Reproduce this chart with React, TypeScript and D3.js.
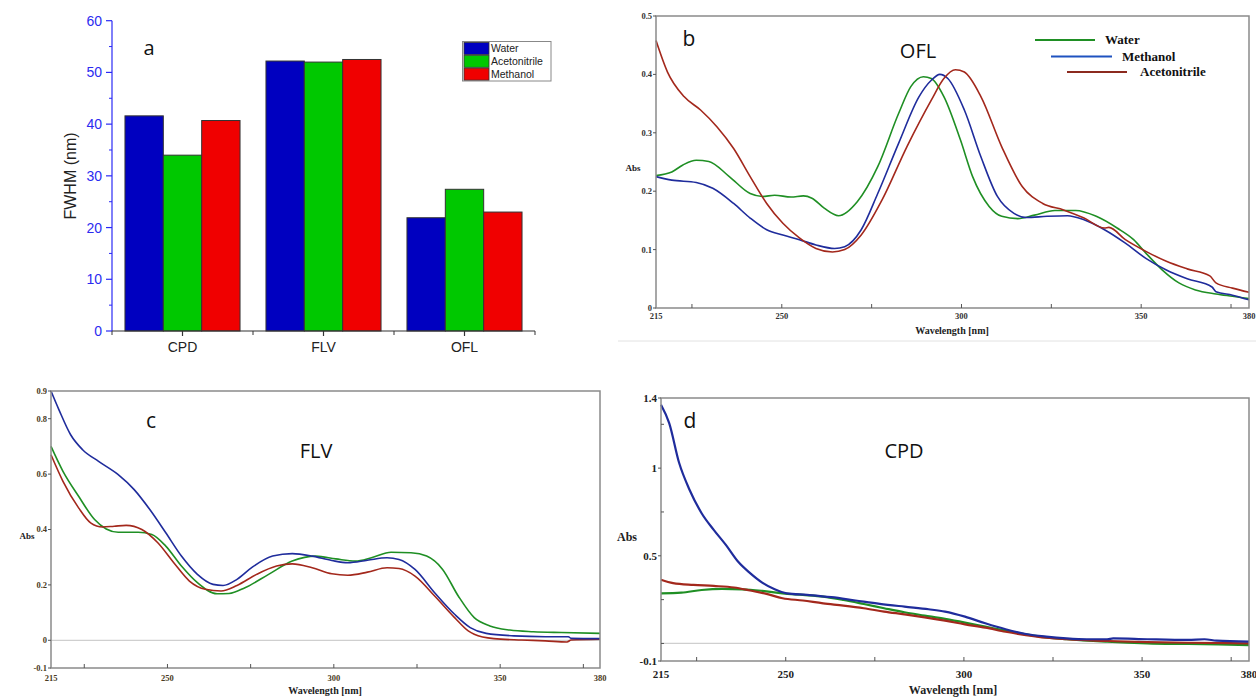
import React from 'react';
import * as d3 from 'd3';

// ---------- Panel a data ----------
const barCategories = ['CPD', 'FLV', 'OFL'];
const barSeries = ['Water', 'Acetonitrile', 'Methanol'];
const fwhmWater = [41.6, 52.2, 21.9];
const fwhmAcetonitrile = [34.0, 52.0, 27.4];
const fwhmMethanol = [40.7, 52.5, 23.0];
const fwhmTicks = [0, 10, 20, 30, 40, 50, 60];

// ---------- Panel b (OFL) ----------
const oflWater: [number, number][] = [
  [215, 0.227], [219.4, 0.233], [222.5, 0.245], [226.2, 0.253], [229.7, 0.251], [235.4, 0.225], [241.2, 0.196],
  [244.6, 0.191], [248, 0.193], [252.6, 0.19], [256, 0.192], [258.4, 0.188], [261.8, 0.171],
  [265.8, 0.158], [271, 0.182], [276.7, 0.242], [282.5, 0.333], [285.9, 0.379], [289.4, 0.396],
  [291.6, 0.393], [295.1, 0.362], [299.7, 0.288], [303.1, 0.225], [307.7, 0.174], [311.2, 0.157],
  [315.7, 0.153], [320.3, 0.159], [326, 0.167], [331.8, 0.167], [337.5, 0.157], [343.3, 0.137],
  [347.9, 0.117], [351.3, 0.094], [355.9, 0.065], [360.5, 0.043], [365.1, 0.031], [370.8, 0.024],
  [375.4, 0.02], [380, 0.016],
];
const oflMethanol: [number, number][] = [
  [215, 0.225], [219.4, 0.219], [226.2, 0.215], [230.8, 0.205], [236.6, 0.179], [241.2, 0.154],
  [245.8, 0.134], [250.3, 0.125], [254.9, 0.117], [259.5, 0.108], [264.7, 0.102], [267.5, 0.105],
  [272.1, 0.134], [276.7, 0.196], [282.5, 0.282], [288.2, 0.362], [291.6, 0.39], [294, 0.4],
  [296.2, 0.393], [300.8, 0.339], [305.4, 0.259], [310, 0.191], [314.6, 0.162], [318, 0.155],
  [323.8, 0.157], [329.5, 0.158], [334.1, 0.151], [339.8, 0.134], [345.6, 0.111], [351.3, 0.085],
  [357, 0.065], [362.8, 0.05], [369.7, 0.036], [370.8, 0.028], [375.4, 0.022], [380, 0.014],
];
const oflAcetonitrile: [number, number][] = [
  [215, 0.458], [218.2, 0.404], [222.8, 0.362], [227.4, 0.339], [232, 0.31], [236.6, 0.273],
  [241.2, 0.225], [245.8, 0.179], [250.3, 0.145], [254.9, 0.12], [259.5, 0.102], [264.1, 0.096],
  [267.5, 0.1], [272.1, 0.125], [277.9, 0.185], [284.8, 0.276], [291.6, 0.356], [295.1, 0.393],
  [298.3, 0.408], [300.8, 0.404], [305.4, 0.362], [311.2, 0.276], [316.9, 0.208], [322.6, 0.179],
  [328.4, 0.168], [334.1, 0.154], [339.8, 0.137], [341, 0.138], [345.6, 0.117], [351.3, 0.097],
  [357, 0.08], [362.8, 0.067], [369.1, 0.055], [370.8, 0.043], [375.4, 0.034], [380, 0.027],
];

// ---------- Panel c (FLV) ----------
const flvMethanol: [number, number][] = [
  [215, 0.9], [217.4, 0.832], [220.9, 0.742], [224.5, 0.688], [229.3, 0.646], [235.2, 0.598],
  [240, 0.544], [244.7, 0.472], [249.5, 0.388], [254.2, 0.304], [259, 0.238], [263.7, 0.202],
  [266.7, 0.198], [270.9, 0.22], [275.6, 0.265], [281.6, 0.304], [287.5, 0.313], [293.5, 0.304],
  [299.4, 0.288], [304.2, 0.28], [310.1, 0.289], [316, 0.298], [319.6, 0.292], [324.4, 0.256],
  [330.3, 0.172], [336.3, 0.094], [341, 0.046], [345.8, 0.025], [354.1, 0.016], [363.6, 0.013],
  [370.5, 0.013], [371.3, 0.007], [380, 0.006],
];
const flvWater: [number, number][] = [
  [215, 0.7], [218.6, 0.61], [223.3, 0.52], [228.1, 0.436], [231.6, 0.402], [235.2, 0.39],
  [241.2, 0.39], [245.3, 0.382], [249.5, 0.34], [254.2, 0.268], [259, 0.208], [264.9, 0.168],
  [268.5, 0.169], [273.3, 0.19], [280.4, 0.238], [287.5, 0.286], [294.6, 0.304], [300.6, 0.294],
  [306.5, 0.286], [311.3, 0.298], [317.2, 0.318], [323.2, 0.316], [327.9, 0.304], [332.7, 0.256],
  [337.4, 0.16], [342.2, 0.082], [346.9, 0.052], [352.9, 0.037], [360, 0.031], [368.4, 0.028],
  [380, 0.025],
];
const flvAcetonitrile: [number, number][] = [
  [215, 0.67], [218.6, 0.574], [223.3, 0.478], [226.9, 0.424], [230.5, 0.409], [234, 0.412],
  [237.6, 0.415], [242.3, 0.4], [247.1, 0.352], [251.9, 0.28], [256.6, 0.214], [261.4, 0.184],
  [266.1, 0.178], [270.9, 0.198], [276.8, 0.238], [282.8, 0.268], [287.5, 0.276], [293.5, 0.262],
  [299.4, 0.24], [304.2, 0.235], [310.1, 0.246], [316, 0.262], [319.6, 0.259], [324.4, 0.232],
  [330.3, 0.16], [336.3, 0.082], [340.4, 0.034], [342.2, 0.022], [348.1, 0.006], [356.4, 0.001],
  [363.6, -0.002], [370.1, -0.006], [371.3, 0.001], [380, 0.004],
];

// ---------- Panel d (CPD) ----------
const cpdMethanol: [number, number][] = [
  [215, 1.362], [217.3, 1.257], [220.1, 1.029], [223, 0.877], [226.4, 0.743], [229.8, 0.648],
  [233.2, 0.562], [236.6, 0.467], [240, 0.401], [243.4, 0.347], [246.9, 0.309], [250.3, 0.286],
  [256, 0.277], [262.8, 0.264], [269.6, 0.245], [276.4, 0.226], [283.3, 0.21], [290.1, 0.195],
  [294.7, 0.182], [300.3, 0.153], [306, 0.115], [311.7, 0.081], [317.4, 0.054], [323.1, 0.039],
  [328.8, 0.029], [334.5, 0.024], [340.2, 0.024], [341.9, 0.029], [351.5, 0.024], [362.9, 0.02],
  [367.5, 0.024], [370.9, 0.016], [380, 0.01],
];
const cpdWater: [number, number][] = [
  [215, 0.286], [220.7, 0.29], [226.4, 0.305], [232.1, 0.311], [237.8, 0.309], [243.4, 0.3],
  [249.1, 0.286], [254.8, 0.277], [260.5, 0.267], [266.2, 0.248], [271.9, 0.225], [277.6, 0.201],
  [283.3, 0.178], [289, 0.159], [294.7, 0.14], [300.3, 0.119], [306, 0.096], [311.7, 0.073],
  [317.4, 0.052], [323.1, 0.035], [328.8, 0.024], [340.2, 0.01], [351.5, 0.001], [362.9, -0.003],
  [380, -0.009],
];
const cpdAcetonitrile: [number, number][] = [
  [215, 0.363], [218.4, 0.344], [224.1, 0.334], [229.8, 0.328], [235.5, 0.319], [240, 0.302],
  [244.6, 0.283], [249.1, 0.258], [254.8, 0.245], [260.5, 0.229], [266.2, 0.216], [271.9, 0.201],
  [277.6, 0.182], [283.3, 0.166], [289, 0.149], [294.7, 0.13], [300.3, 0.109], [306, 0.09],
  [311.7, 0.067], [317.4, 0.048], [323.1, 0.033], [328.8, 0.024], [340.2, 0.014], [351.5, 0.008],
  [362.9, 0.004], [380, 0.001],
];

const xLabelTicks = [215, 250, 300, 350, 380];
const xMarkTicks = [225, 250, 275, 300, 325, 350, 375];
const oflYTicks = [0, 0.1, 0.2, 0.3, 0.4, 0.5];
const flvYTicks = [-0.1, 0, 0.2, 0.4, 0.6, 0.8, 0.9];
const cpdYTicks = [-0.1, 0.5, 1, 1.4];
const cpdYMinor = [0, 0.25, 0.75, 1.25];

const GREEN = '#1f8f24';
const BLUE = '#1f2c9c';
const BROWN = '#a3281c';

const SERIF = '"Liberation Serif", "Times New Roman", serif';
const SANS = '"Liberation Sans", Arial, sans-serif';
const CAL = '"Open Sans", "Noto Sans", sans-serif';

function fmt(v: number) {
  if (v === 0) return '0';
  return String(Math.round(v * 100) / 100);
}

function BarPanel() {
  const left = 112, right = 535, top = 20.7, bottom = 331;
  const x0 = d3.scaleBand<string>().domain(barCategories).range([left, right]).paddingInner(0.184).paddingOuter(0.092);
  const x1 = d3.scaleBand<string>().domain(barSeries).range([0, x0.bandwidth()]);
  const y = d3.scaleLinear().domain([0, 60]).range([bottom, top]);
  const values: Record<string, number[]> = { Water: fwhmWater, Acetonitrile: fwhmAcetonitrile, Methanol: fwhmMethanol };
  const colors: Record<string, string> = { Water: '#0000c0', Acetonitrile: '#00c800', Methanol: '#f00000' };
  const step = x0.step();
  const minorY = d3.range(5, 60, 10);
  return (
    <g>
      {barCategories.map((c, ci) =>
        barSeries.map((s) => (
          <rect key={c + s} x={(x0(c) as number) + (x1(s) as number)} y={y(values[s][ci])}
            width={x1.bandwidth()} height={bottom - y(values[s][ci])}
            fill={colors[s]} stroke="#333" strokeWidth={1} />
        ))
      )}
      {/* y axis */}
      <line x1={left} x2={left} y1={top} y2={bottom} stroke="#2a2af5" strokeWidth={1.2} />
      {fwhmTicks.map((t) => (
        <g key={t}>
          <line x1={left - 6} x2={left} y1={y(t)} y2={y(t)} stroke="#2a2af5" strokeWidth={1.2} />
          <text x={left - 10} y={y(t)} dy="0.36em" textAnchor="end" fontFamily={SANS} fontSize={14} fill="#2b2bf0">{t}</text>
        </g>
      ))}
      {minorY.map((t) => (
        <line key={t} x1={left - 3} x2={left} y1={y(t)} y2={y(t)} stroke="#2a2af5" strokeWidth={1} />
      ))}
      {/* x axis */}
      <line x1={left} x2={right} y1={bottom} y2={bottom} stroke="#333" strokeWidth={1.2} />
      {barCategories.map((c) => {
        const cx = (x0(c) as number) + x0.bandwidth() / 2;
        return (
          <g key={c}>
            <line x1={cx} x2={cx} y1={bottom} y2={bottom + 5} stroke="#333" strokeWidth={1.2} />
            <text x={cx} y={bottom + 16} dy="0.36em" textAnchor="middle" fontFamily={SANS} fontSize={14} fill="#222">{c}</text>
          </g>
        );
      })}
      {d3.range(0, 4).map((i) => (
        <line key={i} x1={left + i * step} x2={left + i * step} y1={bottom} y2={bottom + 4} stroke="#333" strokeWidth={1} />
      ))}
      <text transform={`translate(70,176) rotate(-90)`} textAnchor="middle" dy="0.36em" fontFamily={SANS} fontSize={16} fill="#222">FWHM (nm)</text>
      <text x={149} y={48} dy="0.36em" textAnchor="middle" fontFamily={CAL} fontSize={20} fill="#111">a</text>
      {/* legend */}
      <rect x={462.5} y={41.5} width={88.5} height={39.5} fill="#fff" stroke="#888" strokeWidth={1} />
      {barSeries.map((s, i) => (
        <g key={s}>
          <rect x={464} y={42.5 + i * 12.8} width={25} height={12} fill={colors[s]} stroke="#333" strokeWidth={0.8} />
          <text x={491} y={48.5 + i * 12.8} dy="0.36em" fontFamily={SANS} fontSize={10.5} fill="#222">{s}</text>
        </g>
      ))}
    </g>
  );
}

type Series = { data: [number, number][]; color: string };

type SpecProps = {
  left: number; right: number; top: number; bottom: number;
  yDomain: [number, number]; yTicks: number[]; yMinor?: number[];
  series: Series[]; zeroLine?: boolean; strokeWidth: number;
  tickFont: number; titleFont: number; absFont: number;
  tickLabelY: number; titleY: number; titleX: number;
  absX: number; absY: number; labelColor: string;
  letter: string; letterX: number; letterY: number;
  name: string; nameX: number; nameY: number;
};

function SpectrumPanel(p: SpecProps) {
  const x = d3.scaleLinear().domain([215, 380]).range([p.left, p.right]);
  const y = d3.scaleLinear().domain(p.yDomain).range([p.bottom, p.top]);
  const line = d3.line<[number, number]>().x((d) => x(d[0])).y((d) => y(d[1])).curve(d3.curveMonotoneX);
  return (
    <g>
      {p.zeroLine && (
        <line x1={p.left} x2={p.right} y1={y(0)} y2={y(0)} stroke="#cfcfcf" strokeWidth={1.2} />
      )}
      {p.series.map((s, i) => (
        <path key={i} d={line(s.data) || ''} fill="none" stroke={s.color} strokeWidth={p.strokeWidth} strokeLinejoin="round" />
      ))}
      <rect x={p.left} y={p.top} width={p.right - p.left} height={p.bottom - p.top} fill="none" stroke="#8a8a8a" strokeWidth={1.5} />
      {xMarkTicks.map((t) => (
        <line key={t} x1={x(t)} x2={x(t)} y1={p.bottom} y2={p.bottom - 4} stroke="#555" strokeWidth={1} />
      ))}
      {xLabelTicks.map((t) => (
        <text key={t} x={x(t)} y={p.tickLabelY} textAnchor="middle" fontFamily={SERIF} fontWeight="bold" fontSize={p.tickFont} fill={p.labelColor}>{t}</text>
      ))}
      {p.yTicks.map((t) => (
        <g key={t}>
          <line x1={p.left - 3} x2={p.left} y1={y(t)} y2={y(t)} stroke="#555" strokeWidth={1} />
          <text x={p.left - 4} y={y(t)} dy="0.35em" textAnchor="end" fontFamily={SERIF} fontWeight="bold" fontSize={p.tickFont} fill={p.labelColor}>{fmt(t)}</text>
        </g>
      ))}
      {(p.yMinor || []).map((t) => (
        <line key={t} x1={p.left} x2={p.left + 3} y1={y(t)} y2={y(t)} stroke="#555" strokeWidth={1} />
      ))}
      <text x={p.titleX} y={p.titleY} textAnchor="middle" fontFamily={SERIF} fontWeight="bold" fontSize={p.titleFont} fill="#222">Wavelength [nm]</text>
      <text x={p.absX} y={p.absY} dy="0.35em" textAnchor="middle" fontFamily={SERIF} fontWeight="bold" fontSize={p.absFont} fill="#222">Abs</text>
      <text x={p.letterX} y={p.letterY} dy="0.36em" textAnchor="middle" fontFamily={CAL} fontSize={21} fill="#111">{p.letter}</text>
      <text x={p.nameX} y={p.nameY} dy="0.36em" textAnchor="middle" fontFamily={CAL} fontSize={20} fill="#111">{p.name}</text>
    </g>
  );
}

export default function App() {
  const legendB = [
    { name: 'Water', color: GREEN, x1: 1035, x2: 1095, y: 40, tx: 1105 },
    { name: 'Methanol', color: '#1f52c0', x1: 1051, x2: 1112, y: 56.5, tx: 1122 },
    { name: 'Acetonitrile', color: '#8c2a1f', x1: 1067, x2: 1127, y: 72, tx: 1140 },
  ];
  return (
    <svg width={1256} height={698} style={{ position: 'absolute', left: 0, top: 0, background: '#fff' }}>
      <rect x={0} y={0} width={1256} height={698} fill="#fff" />
      <BarPanel />
      <SpectrumPanel
        left={656} right={1249} top={16} bottom={308}
        yDomain={[0, 0.5]} yTicks={oflYTicks}
        series={[{ data: oflWater, color: GREEN }, { data: oflMethanol, color: BLUE }, { data: oflAcetonitrile, color: BROWN }]}
        strokeWidth={1.6} tickFont={8.5} titleFont={10} absFont={9}
        tickLabelY={319} titleY={334} titleX={952} absX={633} absY={168} labelColor="#333"
        letter="b" letterX={689} letterY={38} name="OFL" nameX={918} nameY={51}
      />
      {legendB.map((l) => (
        <g key={l.name}>
          <line x1={l.x1} x2={l.x2} y1={l.y} y2={l.y} stroke={l.color} strokeWidth={2} />
          <text x={l.tx} y={l.y} dy="0.32em" fontFamily={SERIF} fontWeight="bold" fontSize={13} fill="#111">{l.name}</text>
        </g>
      ))}
      <line x1={618} x2={1256} y1={341} y2={341} stroke="#e2e2e2" strokeWidth={1} />
      <SpectrumPanel
        left={51} right={600} top={391} bottom={668}
        yDomain={[-0.1, 0.9]} yTicks={flvYTicks}
        series={[{ data: flvWater, color: GREEN }, { data: flvAcetonitrile, color: BROWN }, { data: flvMethanol, color: BLUE }]}
        zeroLine strokeWidth={1.6} tickFont={8.5} titleFont={10} absFont={9}
        tickLabelY={681} titleY={694} titleX={325} absX={27} absY={536} labelColor="#4a3b22"
        letter="c" letterX={151} letterY={420} name="FLV" nameX={316} nameY={451}
      />
      <SpectrumPanel
        left={661} right={1249} top={398} bottom={661}
        yDomain={[-0.1, 1.4]} yTicks={cpdYTicks} yMinor={cpdYMinor}
        series={[{ data: cpdWater, color: GREEN }, { data: cpdAcetonitrile, color: BROWN }, { data: cpdMethanol, color: BLUE }]}
        zeroLine strokeWidth={2.2} tickFont={11} titleFont={12} absFont={12}
        tickLabelY={678} titleY={694} titleX={953} absX={627} absY={537} labelColor="#222"
        letter="d" letterX={690} letterY={420} name="CPD" nameX={904} nameY={451}
      />
    </svg>
  );
}
